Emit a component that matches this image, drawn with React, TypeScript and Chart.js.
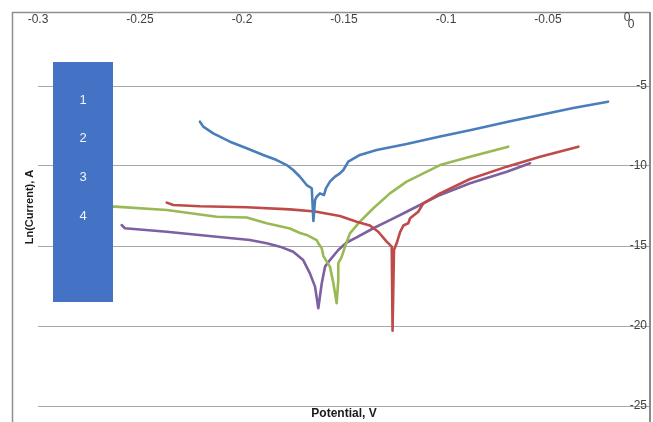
import { useEffect, useRef } from 'react';
import { Chart, registerables } from 'chart.js';

Chart.register(...registerables);

// Polarization curves: potential (V) vs ln(current)
const seriesNames = ['1', '2', '3', '4'];
const seriesColors = ['#4A7EBB', '#BE4B48', '#98B954', '#7D60A0'];

const potential1 = [-0.2206, -0.219, -0.2141, -0.2059, -0.1977, -0.1896, -0.183, -0.1781, -0.1749, -0.1716, -0.1683, -0.1658, -0.165, -0.1642, -0.1634, -0.1618, -0.1598, -0.1588, -0.1569, -0.1544, -0.152, -0.1503, -0.1479, -0.1422, -0.134, -0.1193, -0.1029, -0.0866, -0.0702, -0.0539, -0.0376, -0.0206];
const lnCurrent1 = [-7.23, -7.54, -7.96, -8.48, -8.89, -9.31, -9.63, -9.94, -10.25, -10.67, -11.19, -11.39, -13.44, -12.13, -11.92, -11.71, -11.81, -11.38, -10.98, -10.66, -10.46, -10.25, -9.73, -9.31, -9.0, -8.63, -8.16, -7.72, -7.25, -6.81, -6.38, -5.98];

const potential2 = [-0.2369, -0.2337, -0.2206, -0.1977, -0.1765, -0.1642, -0.152, -0.1438, -0.1373, -0.1332, -0.1291, -0.1266, -0.1262, -0.1255, -0.1242, -0.1225, -0.1209, -0.1185, -0.1176, -0.1136, -0.1111, -0.1029, -0.0882, -0.0702, -0.0539, -0.0351];
const lnCurrent2 = [-12.29, -12.44, -12.52, -12.58, -12.71, -12.84, -13.13, -13.48, -13.72, -14.11, -14.73, -15.04, -20.29, -15.25, -14.83, -14.13, -13.72, -13.58, -13.27, -12.86, -12.33, -11.71, -10.81, -10.04, -9.42, -8.79];

const potential3 = [-0.2843, -0.2623, -0.2369, -0.2124, -0.1977, -0.1879, -0.1765, -0.1716, -0.1683, -0.1634, -0.1626, -0.1609, -0.1601, -0.1569, -0.1552, -0.1536, -0.1528, -0.1528, -0.1511, -0.1495, -0.1471, -0.1422, -0.1356, -0.1275, -0.1193, -0.1111, -0.1029, -0.0882, -0.0695];
const lnCurrent3 = [-12.48, -12.54, -12.75, -13.17, -13.22, -13.58, -13.91, -14.19, -14.31, -14.63, -14.83, -15.14, -15.63, -16.29, -17.33, -18.58, -17.13, -16.08, -15.67, -15.04, -14.21, -13.48, -12.64, -11.71, -10.98, -10.46, -9.94, -9.42, -8.79];

const potential4 = [-0.259, -0.2574, -0.2369, -0.2124, -0.1961, -0.1879, -0.1814, -0.1749, -0.17, -0.1667, -0.1642, -0.1626, -0.1609, -0.1593, -0.1569, -0.1528, -0.1487, -0.1438, -0.1356, -0.1275, -0.1193, -0.1111, -0.1029, -0.0882, -0.0702, -0.0588];
const lnCurrent4 = [-13.69, -13.89, -14.11, -14.42, -14.63, -14.83, -15.04, -15.36, -15.88, -16.71, -17.54, -18.89, -17.33, -16.29, -15.88, -15.25, -14.78, -14.46, -13.89, -13.38, -12.86, -12.33, -11.81, -11.08, -10.36, -9.83];

const xTicks = [-0.3, -0.25, -0.2, -0.15, -0.1, -0.05, 0];
const xTickLabels = ['-0.3', '-0.25', '-0.2', '-0.15', '-0.1', '-0.05', '0'];
const yTicks = [-25, -20, -15, -10, -5];
const yOriginLabel = '0';

const xTitle = 'Potential, V';
const yTitle = 'Ln(Current), A';

const FONT = '"Liberation Sans", Arial, sans-serif';

const seriesX = [potential1, potential2, potential3, potential4];
const seriesY = [lnCurrent1, lnCurrent2, lnCurrent3, lnCurrent4];

const decorations = {
  id: 'decorations',
  beforeDraw(chart: any) {
    const { ctx, chartArea } = chart;
    ctx.save();
    ctx.fillStyle = '#ffffff';
    ctx.fillRect(0, 0, chart.width, chart.height);
    // outer frame (left + top)
    ctx.strokeStyle = '#8e8e8e';
    ctx.lineWidth = 1.5;
    ctx.beginPath();
    ctx.moveTo(12.5, chart.height);
    ctx.lineTo(12.5, chartArea.top + 0.5);
    ctx.lineTo(chartArea.right, chartArea.top + 0.5);
    ctx.stroke();
    ctx.restore();
  },
  afterDraw(chart: any) {
    const { ctx, chartArea } = chart;
    const xs = chart.scales.x;
    ctx.save();

    // value axis line on the right
    ctx.strokeStyle = '#8a8a8a';
    ctx.lineWidth = 2;
    ctx.beginPath();
    ctx.moveTo(chartArea.right, chartArea.top);
    ctx.lineTo(chartArea.right, chart.height);
    ctx.stroke();

    // x tick labels just under the top axis
    ctx.fillStyle = '#404040';
    ctx.font = `12px ${FONT}`;
    ctx.textAlign = 'center';
    ctx.textBaseline = 'middle';
    xTicks.forEach((v, i) => {
      const px = Math.min(xs.getPixelForValue(v), chartArea.right - 23);
      const py = i === xTicks.length - 1 ? chartArea.top + 6 : chartArea.top + 8;
      ctx.fillText(xTickLabels[i], px, py);
    });
    ctx.fillText(yOriginLabel, chartArea.right - 19, chartArea.top + 13);

    // axis titles
    ctx.fillStyle = '#1a1a1a';
    ctx.font = `bold 12px ${FONT}`;
    ctx.fillText(xTitle, (chartArea.left + chartArea.right) / 2, chart.height - 8);
    ctx.save();
    ctx.translate(30, 207);
    ctx.rotate(-Math.PI / 2);
    ctx.font = `bold 11px ${FONT}`;
    ctx.fillText(yTitle, 0, 0);
    ctx.restore();

    // series key panel
    const boxX = 53;
    const boxY = 62;
    const boxW = 60;
    const boxH = 240;
    ctx.fillStyle = '#4472C4';
    ctx.fillRect(boxX, boxY, boxW, boxH);
    ctx.fillStyle = '#f2f5fb';
    ctx.font = `13px ${FONT}`;
    seriesNames.forEach((name, i) => {
      ctx.fillText(name, boxX + boxW / 2, 100 + i * 38.8);
    });
    ctx.restore();
  },
};

export default function App() {
  const canvasRef = useRef<HTMLCanvasElement | null>(null);

  useEffect(() => {
    const canvas = canvasRef.current;
    if (!canvas) return;
    const datasets = seriesNames.map((name, i) => ({
      label: name,
      data: seriesX[i].map((x, j) => ({ x, y: seriesY[i][j] })),
      borderColor: seriesColors[i],
      backgroundColor: seriesColors[i],
      borderWidth: 2.6,
      showLine: true,
      pointRadius: 0,
      pointHoverRadius: 0,
      tension: 0,
      borderJoinStyle: 'round' as const,
      borderCapStyle: 'round' as const,
      fill: false,
    }));

    const chart = new Chart(canvas, {
      type: 'scatter',
      data: { datasets },
      options: {
        animation: false,
        responsive: false,
        devicePixelRatio: 1,
        layout: { padding: { left: 38, right: 3, top: 12, bottom: 16 } },
        plugins: {
          legend: { display: false },
          tooltip: { enabled: false },
        },
        scales: {
          x: {
            type: 'linear',
            display: false,
            min: -0.3,
            max: 0,
          },
          y: {
            type: 'linear',
            position: 'right',
            min: -25,
            max: -0.375,
            afterBuildTicks: (scale: any) => {
              scale.ticks = yTicks.map((value) => ({ value }));
            },
            afterFit: (scale: any) => {
              scale.width = 0;
            },
            border: { display: false },
            grid: { color: '#a8a8a8', lineWidth: 1, drawTicks: false },
            ticks: {
              mirror: true,
              padding: -3,
              color: '#404040',
              font: { family: FONT, size: 12 },
              callback: (v: any) => String(v),
            },
          },
        },
      },
      plugins: [decorations],
    });

    return () => chart.destroy();
  }, []);

  return (
    <div style={{ position: 'fixed', left: 0, top: 0, width: 653, height: 422, background: '#fff' }}>
      <canvas ref={canvasRef} width={653} height={422} style={{ display: 'block' }} />
    </div>
  );
}
